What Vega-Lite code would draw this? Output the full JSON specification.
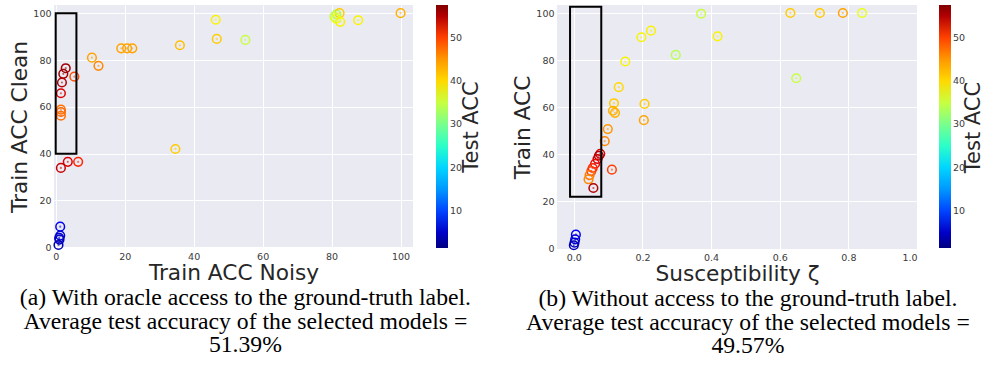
{
  "$schema": "https://vega.github.io/schema/vega-lite/v6.json",
  "padding": {"left": 9, "top": 5, "right": 0, "bottom": 0},
  "background": "white",
  "config": {
    "font": "DejaVu Sans",
    "view": {"fill": "#EAEAF2", "stroke": null},
    "axis": {"grid": true, "gridColor": "white", "gridWidth": 1, "domain": false, "ticks": false, "labelColor": "#3a3a3a", "labelFontSize": 9.5, "labelPadding": 3, "titleFontSize": 21.7, "titleFontWeight": "normal", "titleColor": "#262626"},
    "legend": {"labelColor": "#3a3a3a", "labelFontSize": 9.5, "labelOffset": 2, "gradientLength": 243, "gradientThickness": 12, "gradientStrokeWidth": 0, "direction": "vertical"}
  },
  "datasets": {
    "a": [
      {"noisy": 81.4, "clean": 99.5, "test": 33},
      {"noisy": 82.3, "clean": 100, "test": 41},
      {"noisy": 80.8, "clean": 98.5, "test": 35},
      {"noisy": 81.3, "clean": 97.7, "test": 37},
      {"noisy": 82.5, "clean": 96.3, "test": 38},
      {"noisy": 87.7, "clean": 97.0, "test": 38},
      {"noisy": 100.0, "clean": 100.0, "test": 43},
      {"noisy": 46.4, "clean": 97.2, "test": 38},
      {"noisy": 46.7, "clean": 89.0, "test": 41},
      {"noisy": 55.0, "clean": 88.6, "test": 35},
      {"noisy": 36.0, "clean": 86.3, "test": 42},
      {"noisy": 19.0, "clean": 85.0, "test": 44},
      {"noisy": 20.7, "clean": 85.0, "test": 44},
      {"noisy": 22.2, "clean": 85.0, "test": 44},
      {"noisy": 10.5, "clean": 81.0, "test": 44},
      {"noisy": 12.4, "clean": 77.5, "test": 46},
      {"noisy": 5.4, "clean": 72.9, "test": 49.5},
      {"noisy": 2.9, "clean": 76.5, "test": 56},
      {"noisy": 2.2, "clean": 74.1, "test": 56},
      {"noisy": 1.8, "clean": 70.4, "test": 55},
      {"noisy": 1.5, "clean": 65.8, "test": 53},
      {"noisy": 1.5, "clean": 58.8, "test": 47.5},
      {"noisy": 1.5, "clean": 57.8, "test": 48},
      {"noisy": 1.5, "clean": 56.2, "test": 47.5},
      {"noisy": 6.5, "clean": 36.5, "test": 51},
      {"noisy": 3.5, "clean": 36.5, "test": 53},
      {"noisy": 1.5, "clean": 33.9, "test": 54},
      {"noisy": 34.7, "clean": 42.0, "test": 41},
      {"noisy": 1.3, "clean": 8.8, "test": 7},
      {"noisy": 1.3, "clean": 5.0, "test": 6},
      {"noisy": 1.0, "clean": 4.0, "test": 5},
      {"noisy": 1.1, "clean": 3.3, "test": 5},
      {"noisy": 0.8, "clean": 1.0, "test": 4}
    ],
    "b": [
      {"zeta": 0.371, "train": 99.7, "test": 35},
      {"zeta": 0.419, "train": 90.1, "test": 38},
      {"zeta": 0.225, "train": 92.5, "test": 38},
      {"zeta": 0.197, "train": 89.7, "test": 38},
      {"zeta": 0.297, "train": 82.2, "test": 34},
      {"zeta": 0.150, "train": 79.4, "test": 38},
      {"zeta": 0.131, "train": 68.5, "test": 40},
      {"zeta": 0.117, "train": 61.7, "test": 41},
      {"zeta": 0.206, "train": 61.4, "test": 41},
      {"zeta": 0.114, "train": 58.5, "test": 43},
      {"zeta": 0.120, "train": 57.6, "test": 43},
      {"zeta": 0.204, "train": 54.5, "test": 44},
      {"zeta": 0.099, "train": 50.7, "test": 45},
      {"zeta": 0.090, "train": 45.6, "test": 46},
      {"zeta": 0.077, "train": 40.2, "test": 53},
      {"zeta": 0.073, "train": 39.4, "test": 55},
      {"zeta": 0.069, "train": 38.0, "test": 54},
      {"zeta": 0.062, "train": 36.0, "test": 52},
      {"zeta": 0.055, "train": 34.2, "test": 51},
      {"zeta": 0.111, "train": 33.5, "test": 50},
      {"zeta": 0.051, "train": 32.9, "test": 50},
      {"zeta": 0.046, "train": 31.2, "test": 47},
      {"zeta": 0.043, "train": 29.4, "test": 46},
      {"zeta": 0.057, "train": 25.7, "test": 55},
      {"zeta": 0.006, "train": 5.9, "test": 7},
      {"zeta": 0.004, "train": 3.9, "test": 6},
      {"zeta": 0.002, "train": 2.5, "test": 5},
      {"zeta": 0.000, "train": 1.4, "test": 4},
      {"zeta": 0.631, "train": 100.0, "test": 41},
      {"zeta": 0.717, "train": 100.0, "test": 41},
      {"zeta": 0.784, "train": 100.0, "test": 44},
      {"zeta": 0.840, "train": 100.0, "test": 37},
      {"zeta": 0.648, "train": 72.3, "test": 35}
    ],
    "boxA": [{"noisy": 0, "noisy2": 6, "clean": 40, "clean2": 100}],
    "boxB": [{"zeta": -0.011, "zeta2": 0.08, "train": 22, "train2": 102.7}]
  },
  "resolve": {"scale": {"color": "independent"}, "legend": {"color": "independent"}},
  "spacing": 31,
  "hconcat": [
    {
      "width": 359,
      "height": 243,
      "title": {"text": ["(a) With oracle access to the ground-truth label.", "Average test accuracy of the selected models =", "51.39%"], "orient": "bottom", "anchor": "middle", "frame": "bounds", "font": "Liberation Serif", "fontSize": 23.7, "fontWeight": "normal", "lineHeight": 23.5, "offset": 2, "color": "black"},
      "layer": [
        {
          "data": {"name": "a"},
          "mark": {"type": "point", "shape": "circle", "filled": false, "size": 75, "strokeWidth": 1.5, "opacity": 1},
          "encoding": {
            "x": {"field": "noisy", "type": "quantitative", "title": "Train ACC Noisy", "scale": {"domain": [-0.5, 103.6], "nice": false, "zero": false}, "axis": {"values": [0, 20, 40, 60, 80, 100], "titlePadding": 2}},
            "y": {"field": "clean", "type": "quantitative", "title": "Train ACC Clean", "scale": {"domain": [-0.3, 103.5], "nice": false, "zero": false}, "axis": {"values": [0, 20, 40, 60, 80, 100], "titlePadding": 1}},
            "color": {
              "field": "test", "type": "quantitative",
              "scale": {"domain": [1.45, 7.6155, 8.456, 20.507, 21.0675, 22.469, 37.322, 37.8825, 38.443, 51.3415, 52.4555, 57.5], "range": ["#000080", "#0000FF", "#0000FF", "#00DBFF", "#00E6F7", "#14FFE2", "#EEFF08", "#F7F500", "#FFEC00", "#FF1300", "#E80000", "#800000"]},
              "legend": {"type": "gradient", "orient": "none", "legendX": 382, "legendY": 0, "title": null, "values": [10, 20, 30, 40, 50]}
            }
          }
        },
        {
          "data": {"name": "a"},
          "mark": {"type": "point", "shape": "circle", "filled": false, "size": 1, "strokeWidth": 1.2, "opacity": 0.6},
          "encoding": {
            "x": {"field": "noisy", "type": "quantitative", "title": "Train ACC Noisy"},
            "y": {"field": "clean", "type": "quantitative", "title": "Train ACC Clean", "axis": null},
            "color": {"field": "test", "type": "quantitative"}
          }
        },
        {
          "data": {"name": "boxA"},
          "mark": {"type": "rect", "fillOpacity": 0, "stroke": "black", "strokeWidth": 2},
          "encoding": {
            "x": {"field": "noisy", "type": "quantitative", "title": "Train ACC Noisy"},
            "x2": {"field": "noisy2"},
            "y": {"field": "clean", "type": "quantitative", "title": "Test ACC", "axis": {"orient": "right", "labels": false, "grid": false, "ticks": false, "domain": false, "titleAngle": 270, "titleBaseline": "top", "titlePadding": 47, "titleFontSize": 21}},
            "y2": {"field": "clean2"}
          }
        }
      ],
      "resolve": {"axis": {"y": "independent"}}
    },
    {
      "width": 360,
      "height": 244,
      "title": {"text": ["(b) Without access to the ground-truth label.", "Average test accuracy of the selected models =", "49.57%"], "orient": "bottom", "anchor": "middle", "frame": "bounds", "font": "Liberation Serif", "fontSize": 23.7, "fontWeight": "normal", "lineHeight": 23.5, "offset": 2, "color": "black"},
      "layer": [
        {
          "data": {"name": "b"},
          "mark": {"type": "point", "shape": "circle", "filled": false, "size": 75, "strokeWidth": 1.5, "opacity": 1},
          "encoding": {
            "x": {"field": "zeta", "type": "quantitative", "title": "Susceptibility ζ", "scale": {"domain": [-0.049, 1.0], "nice": false, "zero": false}, "axis": {"values": [0, 0.2, 0.4, 0.6, 0.8, 1.0], "format": ".1f", "titlePadding": 2}},
            "y": {"field": "train", "type": "quantitative", "title": "Train ACC", "scale": {"domain": [-0.2, 103.4], "nice": false, "zero": false}, "axis": {"values": [0, 20, 40, 60, 80, 100], "titlePadding": 1}},
            "color": {
              "field": "test", "type": "quantitative",
              "scale": {"domain": [1.45, 7.6155, 8.456, 20.507, 21.0675, 22.469, 37.322, 37.8825, 38.443, 51.3415, 52.4555, 57.5], "range": ["#000080", "#0000FF", "#0000FF", "#00DBFF", "#00E6F7", "#14FFE2", "#EEFF08", "#F7F500", "#FFEC00", "#FF1300", "#E80000", "#800000"]},
              "legend": {"type": "gradient", "orient": "none", "legendX": 382, "legendY": 0, "title": null, "values": [10, 20, 30, 40, 50]}
            }
          }
        },
        {
          "data": {"name": "b"},
          "mark": {"type": "point", "shape": "circle", "filled": false, "size": 1, "strokeWidth": 1.2, "opacity": 0.6},
          "encoding": {
            "x": {"field": "zeta", "type": "quantitative", "title": "Susceptibility ζ"},
            "y": {"field": "train", "type": "quantitative", "title": "Train ACC", "axis": null},
            "color": {"field": "test", "type": "quantitative"}
          }
        },
        {
          "data": {"name": "boxB"},
          "mark": {"type": "rect", "fillOpacity": 0, "stroke": "black", "strokeWidth": 2},
          "encoding": {
            "x": {"field": "zeta", "type": "quantitative", "title": "Susceptibility ζ"},
            "x2": {"field": "zeta2"},
            "y": {"field": "train", "type": "quantitative", "title": "Test ACC", "axis": {"orient": "right", "labels": false, "grid": false, "ticks": false, "domain": false, "titleAngle": 270, "titleBaseline": "top", "titlePadding": 45, "titleFontSize": 21}},
            "y2": {"field": "train2"}
          }
        }
      ],
      "resolve": {"axis": {"y": "independent"}}
    }
  ]
}
